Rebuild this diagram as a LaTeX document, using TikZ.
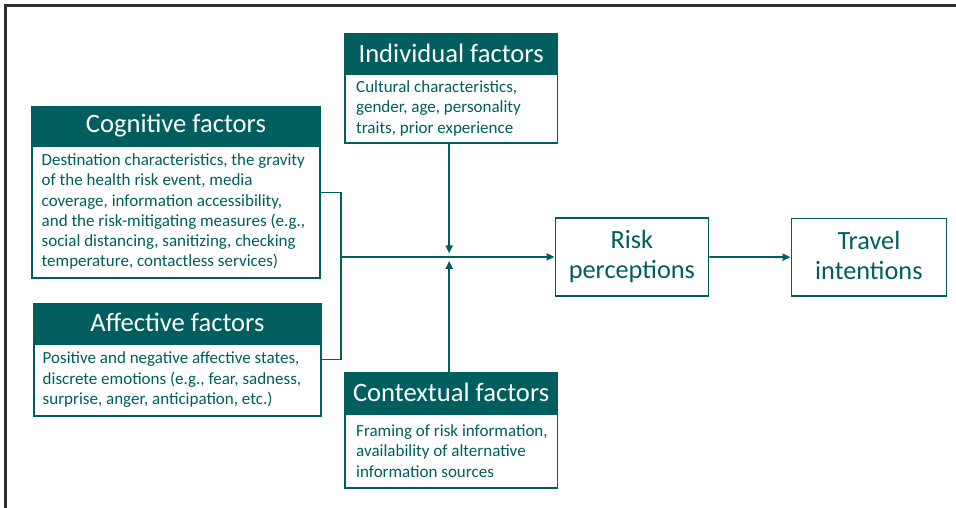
\documentclass[tikz,border=0pt]{standalone}
\usepackage{fontspec}
\setmainfont{Carlito}
\usetikzlibrary{arrows.meta,fit,calc}
\definecolor{teal1}{RGB}{0,94,94}
\tikzset{
 hdr/.style={fill=teal1, draw=teal1, line width=1.8pt, text=white, font=\fontsize{26.6}{30}\selectfont, inner sep=0pt, anchor=north west},
 bodybox/.style={draw=teal1, line width=1.8pt, fill=white, inner sep=0pt, anchor=north west},
 bodytext/.style={text=teal1, font=\fontsize{17}{20.3}\selectfont, align=left, inner sep=0pt, anchor=west},
 outbox/.style={draw=teal1, line width=1.8pt, text=teal1, font=\fontsize{26.3}{30}\selectfont, align=center, inner sep=0pt, anchor=north west},
 conn/.style={draw=teal1, line width=1.8pt},
 arr/.style={conn, -{Triangle[length=8pt,width=7pt]}},
 frameline/.style={draw=black!82, line width=3pt},
}
\begin{document}
\begin{tikzpicture}[x=1pt,y=-1pt]
\useasboundingbox (0,0) rectangle (956,508);
\draw[frameline] (5.8,508) -- (5.8,5.8) -- (956,5.8);

% Cognitive
\node[hdr, minimum width=288pt, minimum height=36.5pt] (cogH) at (31,106.5) {Cognitive factors};
\node[bodybox, minimum width=288pt, minimum height=132pt] (cogB) at (cogH.south west) {};
\node[bodytext] (cogT) at ([xshift=10.5pt]cogB.west) {Destination characteristics, the gravity\\of the health risk event, media\\coverage, information accessibility,\\and the risk-mitigating measures (e.g.,\\social distancing, sanitizing, checking\\temperature, contactless services)};
\node[fit=(cogH)(cogB), inner sep=0pt] (cog) {};

% Affective
\node[hdr, minimum width=287pt, minimum height=38.5pt] (affH) at (33,302.5) {Affective factors};
\node[bodybox, minimum width=287pt, minimum height=72pt] (affB) at (affH.south west) {};
\node[bodytext] (affT) at ([xshift=9.5pt]affB.west) {Positive and negative affective states,\\discrete emotions (e.g., fear, sadness,\\surprise, anger, anticipation, etc.)};
\node[fit=(affH)(affB), inner sep=0pt] (aff) {};

% Individual
\node[hdr, minimum width=212.5pt, minimum height=38.5pt] (indH) at (344,33) {Individual factors};
\node[bodybox, minimum width=212.5pt, minimum height=68.5pt] (indB) at (indH.south west) {};
\node[bodytext] (indT) at ([xshift=12pt]indB.west) {Cultural characteristics,\\gender, age, personality\\traits, prior experience};

% Contextual
\node[hdr, minimum width=212.5pt, minimum height=39.5pt] (ctxH) at (344,372) {Contextual factors};
\node[bodybox, minimum width=212.5pt, minimum height=73.5pt] (ctxB) at (ctxH.south west) {};
\node[bodytext] (ctxT) at ([xshift=12pt]ctxB.west) {Framing of risk information,\\availability of alternative\\information sources};

% Outcomes
\node[outbox, minimum width=153pt, minimum height=78pt] (rp) at (554.5,217) {Risk\\perceptions};
\node[outbox, minimum width=155pt, minimum height=77.5pt] (ti) at (790.5,217.5) {Travel\\intentions\vphantom{p}};

% Connectors
\coordinate (j) at ([xshift=20pt]cog.east |- rp.west);
\draw[conn] (cog.east) -| (j);
\draw[conn] (aff.east) -| (j);
\draw[arr] (j) -- (rp.west);
\draw[arr] ([xshift=-2pt]indB.south) -- ([xshift=-2pt,yshift=3.5pt]indB.south |- j);
\draw[arr] ([xshift=-2pt]ctxH.north) -- ([xshift=-2pt,yshift=-4pt]ctxH.north |- j);
\draw[arr] (rp.east) -- (ti.west);
\end{tikzpicture}
\end{document}
